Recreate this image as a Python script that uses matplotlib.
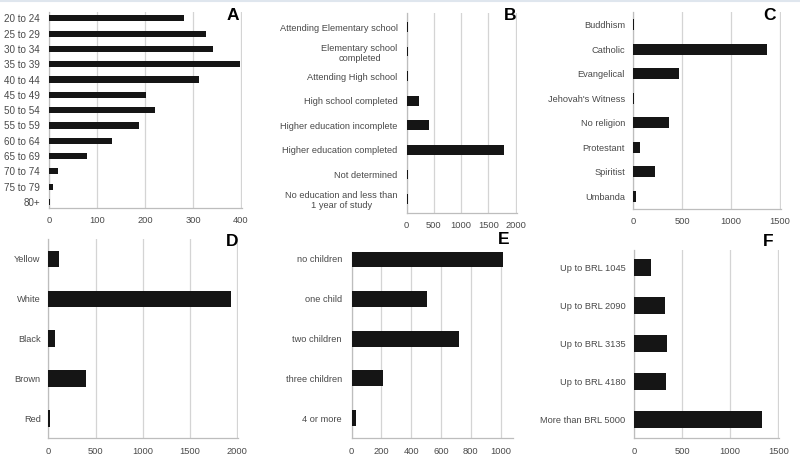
import matplotlib
matplotlib.use("Agg")
import matplotlib.pyplot as plt

plt.rcParams['font.family'] = ['Liberation Sans', 'DejaVu Sans']

# ---- Data ----
age_labels = ["20 to 24", "25 to 29", "30 to 34", "35 to 39", "40 to 44", "45 to 49",
              "50 to 54", "55 to 59", "60 to 64", "65 to 69", "70 to 74", "75 to 79", "80+"]
age_values = [282, 328, 341, 398, 313, 202, 220, 188, 131, 79, 19, 8, 3]
age_ticks = [0, 100, 200, 300, 400]

edu_labels = ["Attending Elementary school", "Elementary school\ncompleted",
              "Attending High school", "High school completed",
              "Higher education incomplete", "Higher education completed",
              "Not determined", "No education and less than\n1 year of study"]
edu_values = [18, 18, 25, 226, 404, 1790, 18, 18]
edu_ticks = [0, 500, 1000, 1500, 2000]

rel_labels = ["Buddhism", "Catholic", "Evangelical", "Jehovah's Witness",
              "No religion", "Protestant", "Spiritist", "Umbanda"]
rel_values = [12, 1370, 469, 12, 363, 69, 226, 28]
rel_ticks = [0, 500, 1000, 1500]

race_labels = ["Yellow", "White", "Black", "Brown", "Red"]
race_values = [110, 1928, 71, 398, 15]
race_ticks = [0, 500, 1000, 1500, 2000]

child_labels = ["no children", "one child", "two children", "three children", "4 or more"]
child_values = [1015, 507, 720, 212, 29]
child_ticks = [0, 200, 400, 600, 800, 1000]

inc_labels = ["Up to BRL 1045", "Up to BRL 2090", "Up to BRL 3135",
              "Up to BRL 4180", "More than BRL 5000"]
inc_values = [177, 319, 346, 333, 1334]
inc_ticks = [0, 500, 1000, 1500]

W, H = 800, 466
fig = plt.figure(figsize=(W / 100, H / 100), dpi=100)
fig.patch.set_facecolor('white')

TXT = '#4a4a4a'
GRID = '#d4d4d4'
BAR = '#151515'


def panel(l, t, r, b, labels, values, ticks, xlim, off_top, off_bot, bh, letter, lpos, pad, fs=6.7):
    ax = fig.add_axes([l / W, 1 - b / H, (r - l) / W, (b - t) / H])
    n = len(labels)
    ys = list(range(n))
    ax.barh(ys, values, height=bh, color=BAR, zorder=3)
    ax.set_ylim(n - 1 + off_bot, -off_top)
    ax.set_xlim(*xlim)
    ax.set_yticks(ys)
    ax.set_yticklabels(labels, fontsize=fs, color=TXT, multialignment='center')
    ax.set_xticks(ticks)
    ax.set_xticklabels([str(v) for v in ticks], fontsize=6.7, color=TXT)
    ax.tick_params(axis='both', length=0)
    ax.tick_params(axis='y', pad=pad)
    ax.tick_params(axis='x', pad=6)
    ax.grid(axis='x', color=GRID, linewidth=0.9, zorder=0)
    ax.set_axisbelow(True)
    for s in ['top', 'right']:
        ax.spines[s].set_visible(False)
    for s in ['left', 'bottom']:
        ax.spines[s].set_color('#bdbdbd')
        ax.spines[s].set_linewidth(0.9)
    ax.set_facecolor('none')
    fig.text(lpos[0] / W, 1 - lpos[1] / H, letter, fontsize=12.5, fontweight='bold',
             color='black', ha='center', va='center')
    return ax


panel(49, 12, 242, 208, age_labels, age_values, age_ticks, (0, 402),
      0.41, 0.39, 0.4, 'A', (233, 16), 6.5, fs=7.1)
panel(406.7, 13, 516.7, 213, edu_labels, edu_values, edu_ticks, (0, 2020),
      0.57, 0.57, 0.4, 'B', (510, 16), 6.5)
panel(633.3, 12, 780.5, 209, rel_labels, rel_values, rel_ticks, (0, 1510),
      0.52, 0.53, 0.45, 'C', (770, 16), 6)
panel(48.3, 239, 237.5, 438.3, race_labels, race_values, race_ticks, (0, 2002),
      0.5, 0.5, 0.41, 'D', (232, 242), 5.5)
panel(351.7, 252, 513.3, 438.3, child_labels, child_values, child_ticks, (0, 1085),
      0.17, 0.5, 0.4, 'E', (504, 240), 7)
panel(634, 250, 778.5, 438.3, inc_labels, inc_values, inc_ticks, (0, 1502),
      0.47, 0.5, 0.44, 'F', (768, 242), 6)

fig.add_artist(plt.Line2D([0, 1], [1 - 0.8 / H, 1 - 0.8 / H], transform=fig.transFigure,
                          color='#dfe6ee', linewidth=1.5))

fig.savefig('out.png', dpi=100, facecolor='white')
